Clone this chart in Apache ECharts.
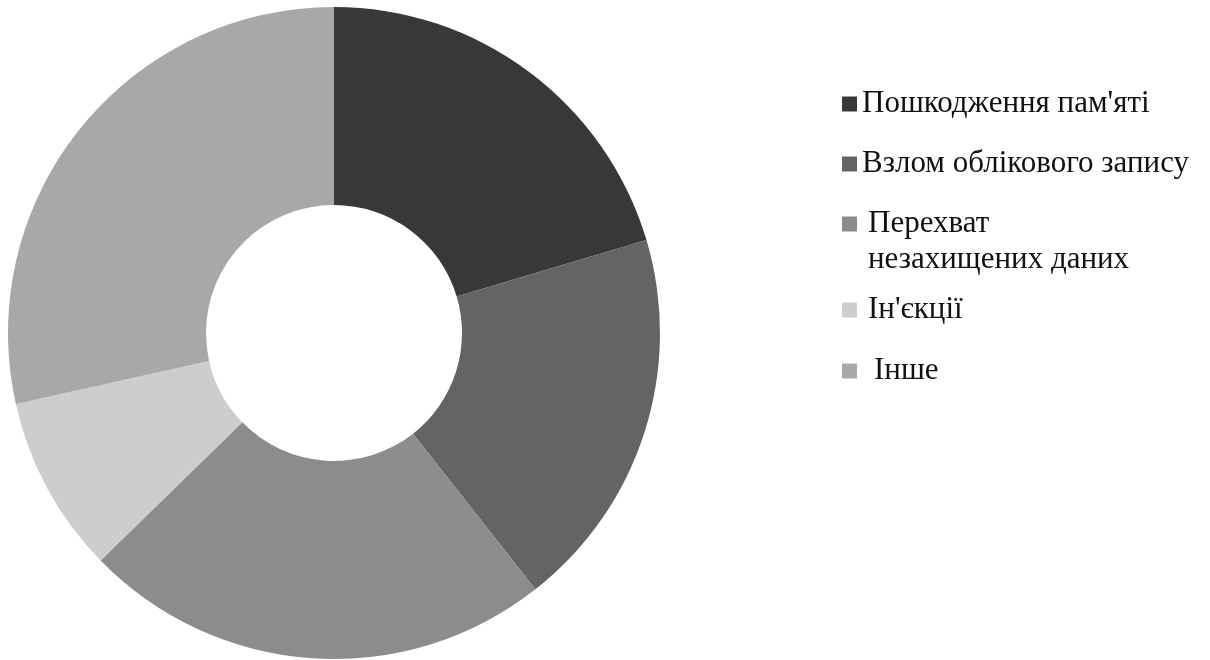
<!DOCTYPE html>
<html>
<head>
<meta charset="utf-8">
<script src="https://cdn.jsdelivr.net/npm/echarts@6/dist/echarts.min.js"></script>
<style>
html,body{margin:0;padding:0;background:#fff;}
#chart{width:1210px;height:660px;}
</style>
</head>
<body>
<div id="chart"></div>
<script>
const categories = ["Пошкодження пам'яті", "Взлом облікового запису", "Перехват незахищених даних", "Ін'єкції", "Інше"];
const values = [20.4, 19.0, 23.3, 8.8, 28.5];
const colors = ['#383838', '#646464', '#8c8c8c', '#cdcdcd', '#a8a8a8'];

const legendCenters = [104, 164, 224, 310, 371];
const legendIndent = [0, 0, 6, 6, 12];

const chart = echarts.init(document.getElementById('chart'));

const legends = categories.map((name, i) => {
  const twoLine = i === 2;
  const lh = twoLine ? 36 : 34;
  return {
    orient: 'vertical',
    left: 842,
    top: twoLine ? legendCenters[i] - 54 : legendCenters[i] - lh / 2,
    padding: 0,
    data: [name],
    icon: 'rect',
    itemWidth: 15,
    itemHeight: 15,
    selectedMode: false,
    formatter: twoLine ? (n => '\n' + n.replace(' ', '\n')) : undefined,
    textStyle: {
      fontFamily: 'Liberation Serif',
      fontSize: 31,
      color: '#111',
      lineHeight: lh,
      padding: [0, 0, 0, legendIndent[i]]
    }
  };
});

chart.setOption({
  animation: false,
  backgroundColor: '#fff',
  color: colors,
  legend: legends,
  series: [{
    type: 'pie',
    center: [334, 333],
    radius: [128, 326],
    startAngle: 90,
    clockwise: true,
    label: { show: false },
    labelLine: { show: false },
    emphasis: { disabled: true },
    itemStyle: { borderWidth: 0 },
    data: categories.map((n, i) => ({ name: n, value: values[i] }))
  }]
});
</script>
</body>
</html>
